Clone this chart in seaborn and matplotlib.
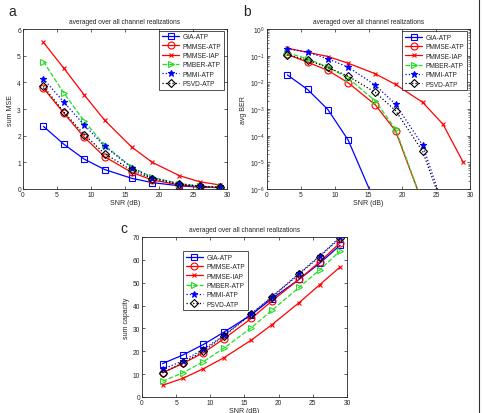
import numpy as np
import pandas as pd
import matplotlib
matplotlib.use('Agg')
import matplotlib.pyplot as plt
import matplotlib.ticker as mticker
from matplotlib.lines import Line2D
import seaborn as sns

snr = [3, 6, 9, 12, 16, 19, 23, 26, 29]
names = ['GIA-ATP', 'PMMSE-ATP', 'PMMSE-IAP', 'PMBER-ATP', 'PMMI-ATP', 'PSVD-ATP']

# a: sum MSE
mse_gia = [2.35, 1.68, 1.12, 0.73, 0.40, 0.24, 0.12, 0.07, 0.05]
mse_pmmse = [3.78, 2.85, 1.94, 1.21, 0.62, 0.34, 0.15, 0.09, 0.05]
mse_iap = [5.50, 4.53, 3.53, 2.58, 1.57, 1.00, 0.50, 0.27, 0.15]
mse_pmber = [4.78, 3.60, 2.55, 1.64, 0.81, 0.44, 0.20, 0.11, 0.06]
mse_pmmi = [4.13, 3.26, 2.40, 1.60, 0.80, 0.42, 0.20, 0.11, 0.06]
mse_psvd = [3.85, 2.89, 2.04, 1.33, 0.70, 0.39, 0.17, 0.10, 0.06]

# b: avg BER (values below 1e-6 fall off the axis)
ber_gia = [1.9e-2, 5.4e-3, 9.5e-4, 6.8e-5, 3e-7]
ber_pmmse = [0.112, 0.057, 0.028, 9.6e-3, 1.44e-3, 1.5e-4, 2.9e-7]
ber_iap = [0.19, 0.134, 0.093, 0.052, 0.021, 8.3e-3, 1.78e-3, 2.7e-4, 1.0e-5]
ber_pmber = [0.127, 0.076, 0.037, 0.0144, 2.0e-3, 1.74e-4, 3.0e-7]
ber_pmmi = [0.18, 0.134, 0.076, 0.037, 7.9e-3, 1.5e-3, 4.4e-5, 2.5e-7]
ber_psvd = [0.107, 0.068, 0.036, 0.017, 4.2e-3, 8.7e-4, 2.6e-5, 2.0e-7]

# c: sum capacity
cap_gia = [14.6, 18.4, 23.0, 28.4, 36.0, 43.0, 51.5, 58.5, 66.4]
cap_pmmse = [10.6, 14.7, 19.4, 25.5, 34.4, 42.0, 51.5, 59.1, 67.5]
cap_iap = [5.1, 8.2, 12.4, 17.2, 24.9, 31.6, 41.3, 49.1, 56.9]
cap_pmber = [6.9, 10.6, 15.5, 21.4, 30.3, 37.9, 48.0, 55.6, 63.9]
cap_pmmi = [12.1, 15.8, 20.9, 27.0, 36.5, 43.9, 54.1, 61.7, 70.0]
cap_psvd = [10.6, 15.0, 20.1, 26.7, 36.2, 43.6, 53.8, 61.4, 69.6]

styles = [
    dict(color='#0000ff', ls='-', marker='s', mfc='none', ms=5),
    dict(color='#ff0000', ls='-', marker='o', mfc='none', ms=5),
    dict(color='#ff0000', ls='-', marker='x', ms=3.5),
    dict(color='#22dd22', ls='--', marker='>', mfc='none', ms=5),
    dict(color='#0000ff', ls=':', marker='*', ms=5),
    dict(color='#000000', ls=':', marker='D', mfc='none', ms=4),
]

sns.set_style('ticks')
plt.rcParams['font.family'] = ['Liberation Sans', 'DejaVu Sans']
plt.rcParams['xtick.direction'] = 'in'
plt.rcParams['ytick.direction'] = 'in'

fig = plt.figure(figsize=(4.85, 4.14), dpi=100)
W, H = 485, 414


def add_ax(l, t, r, b):
    return fig.add_axes([l / W, 1 - b / H, (r - l) / W, (b - t) / H])


def draw(ax, series, ylabel):
    for name, ys, st in zip(names, series, styles):
        x = snr[:len(ys)]
        sns.lineplot(x=x, y=ys, ax=ax, label=name, color=st['color'], linestyle=st['ls'],
                     marker=st['marker'], markersize=st['ms'],
                     markerfacecolor=st.get('mfc', st['color']),
                     markeredgecolor=st['color'], markeredgewidth=0.8, linewidth=0.9)
    ax.set_xlim(0, 30)
    ax.set_xticks(range(0, 31, 5))
    ax.set_xlabel('SNR (dB)', fontsize=5, labelpad=1)
    ax.set_ylabel(ylabel, fontsize=5, labelpad=2)
    ax.set_title('averaged over all channel realizations', fontsize=4.8, pad=4)
    ax.tick_params(labelsize=4.8, length=2, width=0.5, pad=1.5, top=True, right=True)
    for s in ax.spines.values():
        s.set_visible(True)
        s.set_linewidth(0.6)


ax1 = add_ax(23, 30, 227, 190)
draw(ax1, [mse_gia, mse_pmmse, mse_iap, mse_pmber, mse_pmmi, mse_psvd], 'sum MSE')
ax1.set_ylim(0, 6)

ax2 = add_ax(267, 30, 470, 190)
draw(ax2, [ber_gia, ber_pmmse, ber_iap, ber_pmber, ber_pmmi, ber_psvd], 'avg BER')
ax2.set_yscale('log')
ax2.set_ylim(1e-6, 1)
ax2.set_yticks([1e-6, 1e-5, 1e-4, 1e-3, 1e-2, 1e-1, 1])
ax2.yaxis.set_minor_locator(mticker.LogLocator(base=10, subs=np.arange(2, 10), numticks=20))
ax2.yaxis.set_minor_formatter(mticker.NullFormatter())
ax2.tick_params(which='minor', length=1.2, width=0.4, right=True, left=True)
ax2.tick_params(which='major', labelsize=4.8)

ax3 = add_ax(142, 238, 347, 398)
draw(ax3, [cap_gia, cap_pmmse, cap_iap, cap_pmber, cap_pmmi, cap_psvd], 'sum capacity')
ax3.set_ylim(0, 70)

for ax, loc in [(ax1, dict(loc='upper right', bbox_to_anchor=(0.985, 0.99))),
                (ax2, dict(loc='upper right', bbox_to_anchor=(0.985, 0.985))),
                (ax3, dict(loc='upper left', bbox_to_anchor=(0.2, 0.91)))]:
    leg = ax.legend(fontsize=4.8, frameon=True, fancybox=False, edgecolor='black',
                    handlelength=2.6, handletextpad=0.5, borderpad=0.4,
                    labelspacing=0.35, borderaxespad=0, **loc)
    leg.get_frame().set_linewidth(0.6)

fig.text(8 / W, 1 - 12 / H, 'a', fontsize=10, va='center')
fig.text(243 / W, 1 - 12 / H, 'b', fontsize=10, va='center')
fig.text(120 / W, 1 - 229 / H, 'c', fontsize=10, va='center')

# thin frame line at the right edge of the source image
fig.add_artist(Line2D([479.5 / W, 479.5 / W], [0, 1], transform=fig.transFigure,
                      color='#333333', linewidth=0.8))

fig.savefig('out.png', dpi=100)
